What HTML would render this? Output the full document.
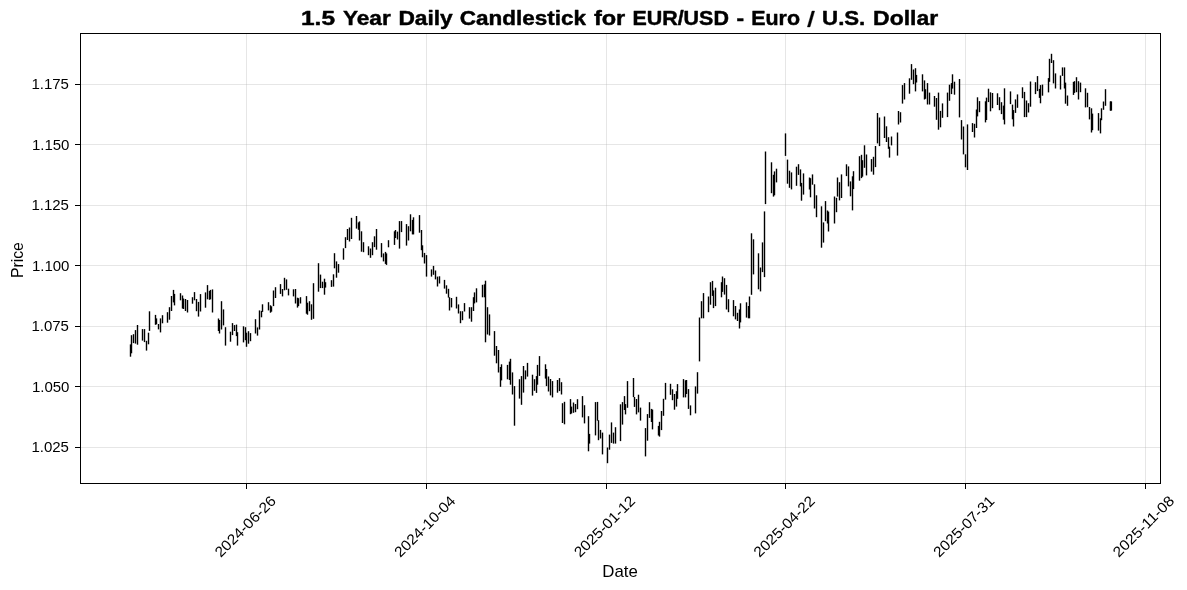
<!DOCTYPE html>
<html><head><meta charset="utf-8"><title>chart</title>
<style>html,body{margin:0;padding:0;background:#fff;overflow:hidden}body{width:1187px;height:590px;position:relative;font-family:"Liberation Sans",sans-serif}</style></head>
<body>
<svg width="1187" height="590" viewBox="0 0 1187 590" style="display:block;position:absolute;left:0;top:0;will-change:transform">
<rect x="0" y="0" width="1187" height="590" fill="#fff"/>
<g fill="#b0b0b0" fill-opacity="0.32" shape-rendering="crispEdges">
<rect x="81" y="84" width="1079" height="1"/>
<rect x="81" y="144" width="1079" height="1"/>
<rect x="81" y="205" width="1079" height="1"/>
<rect x="81" y="265" width="1079" height="1"/>
<rect x="81" y="326" width="1079" height="1"/>
<rect x="81" y="386" width="1079" height="1"/>
<rect x="81" y="447" width="1079" height="1"/>
<rect x="246" y="34" width="1" height="449"/>
<rect x="426" y="34" width="1" height="449"/>
<rect x="606" y="34" width="1" height="449"/>
<rect x="785" y="34" width="1" height="449"/>
<rect x="965" y="34" width="1" height="449"/>
<rect x="1145" y="34" width="1" height="449"/>
</g>
<g fill="#000">
<rect x="129.8" y="344.4" width="1.4" height="12.3"/>
<rect x="130.8" y="335.2" width="1.4" height="18.1"/>
<rect x="132.8" y="334.2" width="1.4" height="8.9"/>
<rect x="134.8" y="330.1" width="1.4" height="13.5"/>
<rect x="136.8" y="325.0" width="1.4" height="19.7"/>
<rect x="141.8" y="329.1" width="1.4" height="11.5"/>
<rect x="143.8" y="329.1" width="1.4" height="13.0"/>
<rect x="145.8" y="340.8" width="1.4" height="9.8"/>
<rect x="147.8" y="332.7" width="1.4" height="11.6"/>
<rect x="148.8" y="311.3" width="1.4" height="19.6"/>
<rect x="154.8" y="314.9" width="1.4" height="9.9"/>
<rect x="155.8" y="318.4" width="1.4" height="5.9"/>
<rect x="157.8" y="324.0" width="1.4" height="5.4"/>
<rect x="159.8" y="318.4" width="1.4" height="14.0"/>
<rect x="161.8" y="315.2" width="1.4" height="8.1"/>
<rect x="166.8" y="312.2" width="1.4" height="10.5"/>
<rect x="168.8" y="307.2" width="1.4" height="12.5"/>
<rect x="170.8" y="296.0" width="1.4" height="15.0"/>
<rect x="172.8" y="289.9" width="1.4" height="12.5"/>
<rect x="173.8" y="293.9" width="1.4" height="11.5"/>
<rect x="179.8" y="293.2" width="1.4" height="7.1"/>
<rect x="181.8" y="295.5" width="1.4" height="13.0"/>
<rect x="182.8" y="298.5" width="1.4" height="10.5"/>
<rect x="184.8" y="299.0" width="1.4" height="12.0"/>
<rect x="186.8" y="300.0" width="1.4" height="12.5"/>
<rect x="191.8" y="297.2" width="1.4" height="6.5"/>
<rect x="193.8" y="292.1" width="1.4" height="8.2"/>
<rect x="195.8" y="299.0" width="1.4" height="12.2"/>
<rect x="197.8" y="301.9" width="1.4" height="14.7"/>
<rect x="199.8" y="294.1" width="1.4" height="17.4"/>
<rect x="204.8" y="292.4" width="1.4" height="15.3"/>
<rect x="206.8" y="285.1" width="1.4" height="14.2"/>
<rect x="208.8" y="290.9" width="1.4" height="8.9"/>
<rect x="209.8" y="289.9" width="1.4" height="9.4"/>
<rect x="211.8" y="289.4" width="1.4" height="23.1"/>
<rect x="217.8" y="318.5" width="1.4" height="12.5"/>
<rect x="218.8" y="320.0" width="1.4" height="13.5"/>
<rect x="220.8" y="301.2" width="1.4" height="28.3"/>
<rect x="222.8" y="309.4" width="1.4" height="16.0"/>
<rect x="224.8" y="327.2" width="1.4" height="18.4"/>
<rect x="229.8" y="331.7" width="1.4" height="10.0"/>
<rect x="231.8" y="323.1" width="1.4" height="12.0"/>
<rect x="233.8" y="325.1" width="1.4" height="5.9"/>
<rect x="235.8" y="324.6" width="1.4" height="11.5"/>
<rect x="236.8" y="332.2" width="1.4" height="13.4"/>
<rect x="242.8" y="326.3" width="1.4" height="16.1"/>
<rect x="244.8" y="327.2" width="1.4" height="13.0"/>
<rect x="245.8" y="332.7" width="1.4" height="14.1"/>
<rect x="247.8" y="331.2" width="1.4" height="12.5"/>
<rect x="249.8" y="333.1" width="1.4" height="8.1"/>
<rect x="254.8" y="319.2" width="1.4" height="14.3"/>
<rect x="256.8" y="327.4" width="1.4" height="8.2"/>
<rect x="258.8" y="310.4" width="1.4" height="19.1"/>
<rect x="260.8" y="310.9" width="1.4" height="6.4"/>
<rect x="261.8" y="304.3" width="1.4" height="7.6"/>
<rect x="267.8" y="302.2" width="1.4" height="8.2"/>
<rect x="269.8" y="305.3" width="1.4" height="7.4"/>
<rect x="270.8" y="306.3" width="1.4" height="5.4"/>
<rect x="272.8" y="290.5" width="1.4" height="15.6"/>
<rect x="274.8" y="287.2" width="1.4" height="10.8"/>
<rect x="279.8" y="284.1" width="1.4" height="9.8"/>
<rect x="281.8" y="289.0" width="1.4" height="7.4"/>
<rect x="283.8" y="277.8" width="1.4" height="12.5"/>
<rect x="285.8" y="279.4" width="1.4" height="10.4"/>
<rect x="287.8" y="288.7" width="1.4" height="6.7"/>
<rect x="292.8" y="289.3" width="1.4" height="7.1"/>
<rect x="294.8" y="289.0" width="1.4" height="14.5"/>
<rect x="296.8" y="297.7" width="1.4" height="9.9"/>
<rect x="297.8" y="298.2" width="1.4" height="7.9"/>
<rect x="299.8" y="297.2" width="1.4" height="6.3"/>
<rect x="305.8" y="296.1" width="1.4" height="17.6"/>
<rect x="306.8" y="302.7" width="1.4" height="12.0"/>
<rect x="308.8" y="301.2" width="1.4" height="10.0"/>
<rect x="310.8" y="304.3" width="1.4" height="15.5"/>
<rect x="312.8" y="283.2" width="1.4" height="35.6"/>
<rect x="317.8" y="263.2" width="1.4" height="28.5"/>
<rect x="319.8" y="274.6" width="1.4" height="13.5"/>
<rect x="321.8" y="281.7" width="1.4" height="6.4"/>
<rect x="323.8" y="278.7" width="1.4" height="16.0"/>
<rect x="324.8" y="282.2" width="1.4" height="5.4"/>
<rect x="330.8" y="280.2" width="1.4" height="6.7"/>
<rect x="332.8" y="274.3" width="1.4" height="12.3"/>
<rect x="333.8" y="253.2" width="1.4" height="15.1"/>
<rect x="335.8" y="261.4" width="1.4" height="16.3"/>
<rect x="337.8" y="264.1" width="1.4" height="8.6"/>
<rect x="342.8" y="248.3" width="1.4" height="11.4"/>
<rect x="344.8" y="237.2" width="1.4" height="10.9"/>
<rect x="346.8" y="229.0" width="1.4" height="11.0"/>
<rect x="348.8" y="227.5" width="1.4" height="14.0"/>
<rect x="350.8" y="217.8" width="1.4" height="21.2"/>
<rect x="355.8" y="216.0" width="1.4" height="12.6"/>
<rect x="357.8" y="222.4" width="1.4" height="7.4"/>
<rect x="358.8" y="221.4" width="1.4" height="19.1"/>
<rect x="360.8" y="231.3" width="1.4" height="20.4"/>
<rect x="362.8" y="242.2" width="1.4" height="10.0"/>
<rect x="367.8" y="246.3" width="1.4" height="8.9"/>
<rect x="369.8" y="248.5" width="1.4" height="9.3"/>
<rect x="371.8" y="242.2" width="1.4" height="13.0"/>
<rect x="373.8" y="236.3" width="1.4" height="10.8"/>
<rect x="375.8" y="229.0" width="1.4" height="20.7"/>
<rect x="380.8" y="243.1" width="1.4" height="14.2"/>
<rect x="382.8" y="253.4" width="1.4" height="8.0"/>
<rect x="384.8" y="251.9" width="1.4" height="12.0"/>
<rect x="385.8" y="253.4" width="1.4" height="11.5"/>
<rect x="387.8" y="240.2" width="1.4" height="7.1"/>
<rect x="393.8" y="231.3" width="1.4" height="13.6"/>
<rect x="394.8" y="230.0" width="1.4" height="8.0"/>
<rect x="396.8" y="231.6" width="1.4" height="7.9"/>
<rect x="398.8" y="221.1" width="1.4" height="27.5"/>
<rect x="400.8" y="221.1" width="1.4" height="11.0"/>
<rect x="405.8" y="224.1" width="1.4" height="21.5"/>
<rect x="407.8" y="226.2" width="1.4" height="14.3"/>
<rect x="409.8" y="214.3" width="1.4" height="17.0"/>
<rect x="411.8" y="219.9" width="1.4" height="14.5"/>
<rect x="412.8" y="217.3" width="1.4" height="17.1"/>
<rect x="418.8" y="215.1" width="1.4" height="17.6"/>
<rect x="420.8" y="230.0" width="1.4" height="20.2"/>
<rect x="421.8" y="245.3" width="1.4" height="12.0"/>
<rect x="423.8" y="252.9" width="1.4" height="10.6"/>
<rect x="425.8" y="255.1" width="1.4" height="21.5"/>
<rect x="430.8" y="269.4" width="1.4" height="7.2"/>
<rect x="432.8" y="265.9" width="1.4" height="8.9"/>
<rect x="434.8" y="270.5" width="1.4" height="8.9"/>
<rect x="436.8" y="276.6" width="1.4" height="9.9"/>
<rect x="438.8" y="276.3" width="1.4" height="7.2"/>
<rect x="443.8" y="279.9" width="1.4" height="8.7"/>
<rect x="445.8" y="285.3" width="1.4" height="8.4"/>
<rect x="447.8" y="288.8" width="1.4" height="8.8"/>
<rect x="448.8" y="297.2" width="1.4" height="13.3"/>
<rect x="450.8" y="298.0" width="1.4" height="9.4"/>
<rect x="455.8" y="296.8" width="1.4" height="11.7"/>
<rect x="457.8" y="304.4" width="1.4" height="9.1"/>
<rect x="459.8" y="311.2" width="1.4" height="12.0"/>
<rect x="461.8" y="311.2" width="1.4" height="9.0"/>
<rect x="463.8" y="303.1" width="1.4" height="8.4"/>
<rect x="468.8" y="307.2" width="1.4" height="11.4"/>
<rect x="470.8" y="307.2" width="1.4" height="14.5"/>
<rect x="472.8" y="297.2" width="1.4" height="13.8"/>
<rect x="473.8" y="292.4" width="1.4" height="11.0"/>
<rect x="475.8" y="288.3" width="1.4" height="14.1"/>
<rect x="481.8" y="284.8" width="1.4" height="12.5"/>
<rect x="483.8" y="284.3" width="1.4" height="13.0"/>
<rect x="484.8" y="280.7" width="1.4" height="61.6"/>
<rect x="486.8" y="307.2" width="1.4" height="27.3"/>
<rect x="488.8" y="314.4" width="1.4" height="21.1"/>
<rect x="493.8" y="331.1" width="1.4" height="24.6"/>
<rect x="495.8" y="346.0" width="1.4" height="17.3"/>
<rect x="497.8" y="350.0" width="1.4" height="22.5"/>
<rect x="499.8" y="367.0" width="1.4" height="19.8"/>
<rect x="500.8" y="364.3" width="1.4" height="16.1"/>
<rect x="506.8" y="364.9" width="1.4" height="14.4"/>
<rect x="508.8" y="361.6" width="1.4" height="18.4"/>
<rect x="509.8" y="358.8" width="1.4" height="25.9"/>
<rect x="511.8" y="372.4" width="1.4" height="22.1"/>
<rect x="513.8" y="386.1" width="1.4" height="39.6"/>
<rect x="518.8" y="379.2" width="1.4" height="19.4"/>
<rect x="520.8" y="376.1" width="1.4" height="28.7"/>
<rect x="522.8" y="366.0" width="1.4" height="26.6"/>
<rect x="524.8" y="370.4" width="1.4" height="8.9"/>
<rect x="526.8" y="362.9" width="1.4" height="13.7"/>
<rect x="531.8" y="374.7" width="1.4" height="20.9"/>
<rect x="533.8" y="379.2" width="1.4" height="11.6"/>
<rect x="535.8" y="376.1" width="1.4" height="16.8"/>
<rect x="536.8" y="364.9" width="1.4" height="19.8"/>
<rect x="538.8" y="356.1" width="1.4" height="19.8"/>
<rect x="544.8" y="364.3" width="1.4" height="14.3"/>
<rect x="545.8" y="369.0" width="1.4" height="17.1"/>
<rect x="547.8" y="376.5" width="1.4" height="15.0"/>
<rect x="549.8" y="379.0" width="1.4" height="16.4"/>
<rect x="551.8" y="381.1" width="1.4" height="16.3"/>
<rect x="556.8" y="380.0" width="1.4" height="12.7"/>
<rect x="558.8" y="378.1" width="1.4" height="13.0"/>
<rect x="560.8" y="382.2" width="1.4" height="12.3"/>
<rect x="561.8" y="403.2" width="1.4" height="19.8"/>
<rect x="563.8" y="401.8" width="1.4" height="22.5"/>
<rect x="569.8" y="399.1" width="1.4" height="15.1"/>
<rect x="570.8" y="406.6" width="1.4" height="6.9"/>
<rect x="572.8" y="402.5" width="1.4" height="10.3"/>
<rect x="574.8" y="404.0" width="1.4" height="8.2"/>
<rect x="576.8" y="399.2" width="1.4" height="10.0"/>
<rect x="581.8" y="396.1" width="1.4" height="21.3"/>
<rect x="583.8" y="405.2" width="1.4" height="18.2"/>
<rect x="587.8" y="416.2" width="1.4" height="35.1"/>
<rect x="588.8" y="433.9" width="1.4" height="9.7"/>
<rect x="594.8" y="402.1" width="1.4" height="33.3"/>
<rect x="596.8" y="401.9" width="1.4" height="18.8"/>
<rect x="597.8" y="420.2" width="1.4" height="20.0"/>
<rect x="599.8" y="429.9" width="1.4" height="8.6"/>
<rect x="601.8" y="432.6" width="1.4" height="21.8"/>
<rect x="606.8" y="447.5" width="1.4" height="15.7"/>
<rect x="608.8" y="434.6" width="1.4" height="15.1"/>
<rect x="610.8" y="422.4" width="1.4" height="20.5"/>
<rect x="612.8" y="432.6" width="1.4" height="11.0"/>
<rect x="614.8" y="427.2" width="1.4" height="16.4"/>
<rect x="619.8" y="404.3" width="1.4" height="36.8"/>
<rect x="621.8" y="402.1" width="1.4" height="22.5"/>
<rect x="623.8" y="396.1" width="1.4" height="13.9"/>
<rect x="624.8" y="404.1" width="1.4" height="10.3"/>
<rect x="626.8" y="381.1" width="1.4" height="26.7"/>
<rect x="632.8" y="378.0" width="1.4" height="19.1"/>
<rect x="633.8" y="397.0" width="1.4" height="9.9"/>
<rect x="635.8" y="399.0" width="1.4" height="15.4"/>
<rect x="637.8" y="394.7" width="1.4" height="17.7"/>
<rect x="639.8" y="407.6" width="1.4" height="13.0"/>
<rect x="644.8" y="428.1" width="1.4" height="28.3"/>
<rect x="646.8" y="414.1" width="1.4" height="26.6"/>
<rect x="648.8" y="402.2" width="1.4" height="15.7"/>
<rect x="650.8" y="408.9" width="1.4" height="13.1"/>
<rect x="651.8" y="409.6" width="1.4" height="19.8"/>
<rect x="657.8" y="425.9" width="1.4" height="9.6"/>
<rect x="658.8" y="421.8" width="1.4" height="14.8"/>
<rect x="660.8" y="411.0" width="1.4" height="19.1"/>
<rect x="662.8" y="398.8" width="1.4" height="17.0"/>
<rect x="664.8" y="382.9" width="1.4" height="16.7"/>
<rect x="669.8" y="383.8" width="1.4" height="11.0"/>
<rect x="671.8" y="389.3" width="1.4" height="10.9"/>
<rect x="673.8" y="394.0" width="1.4" height="15.7"/>
<rect x="675.8" y="391.2" width="1.4" height="15.4"/>
<rect x="676.8" y="384.1" width="1.4" height="14.7"/>
<rect x="682.8" y="379.1" width="1.4" height="18.3"/>
<rect x="684.8" y="380.3" width="1.4" height="17.1"/>
<rect x="685.8" y="380.0" width="1.4" height="14.0"/>
<rect x="687.8" y="389.1" width="1.4" height="19.8"/>
<rect x="689.8" y="405.4" width="1.4" height="9.9"/>
<rect x="694.8" y="386.4" width="1.4" height="27.0"/>
<rect x="696.8" y="372.2" width="1.4" height="21.4"/>
<rect x="698.8" y="317.5" width="1.4" height="43.9"/>
<rect x="700.8" y="301.2" width="1.4" height="17.1"/>
<rect x="702.8" y="293.1" width="1.4" height="25.2"/>
<rect x="707.8" y="296.5" width="1.4" height="15.7"/>
<rect x="709.8" y="282.2" width="1.4" height="22.5"/>
<rect x="711.8" y="280.9" width="1.4" height="15.0"/>
<rect x="712.8" y="290.4" width="1.4" height="17.7"/>
<rect x="714.8" y="287.7" width="1.4" height="18.4"/>
<rect x="720.8" y="282.2" width="1.4" height="15.1"/>
<rect x="721.8" y="276.5" width="1.4" height="15.4"/>
<rect x="723.8" y="278.2" width="1.4" height="16.4"/>
<rect x="725.8" y="284.9" width="1.4" height="24.6"/>
<rect x="727.8" y="299.2" width="1.4" height="13.0"/>
<rect x="732.8" y="300.1" width="1.4" height="16.2"/>
<rect x="734.8" y="306.0" width="1.4" height="13.4"/>
<rect x="736.8" y="312.8" width="1.4" height="8.2"/>
<rect x="738.8" y="309.4" width="1.4" height="19.1"/>
<rect x="739.8" y="303.3" width="1.4" height="19.1"/>
<rect x="745.8" y="302.3" width="1.4" height="15.3"/>
<rect x="747.8" y="306.0" width="1.4" height="12.3"/>
<rect x="748.8" y="296.5" width="1.4" height="21.8"/>
<rect x="750.8" y="233.3" width="1.4" height="61.5"/>
<rect x="752.8" y="239.3" width="1.4" height="35.1"/>
<rect x="757.8" y="253.3" width="1.4" height="36.0"/>
<rect x="759.8" y="267.5" width="1.4" height="23.9"/>
<rect x="761.8" y="242.4" width="1.4" height="29.7"/>
<rect x="763.8" y="211.4" width="1.4" height="65.7"/>
<rect x="764.8" y="151.5" width="1.4" height="52.6"/>
<rect x="770.8" y="162.3" width="1.4" height="30.9"/>
<rect x="772.8" y="174.8" width="1.4" height="21.8"/>
<rect x="773.8" y="171.4" width="1.4" height="23.9"/>
<rect x="775.8" y="168.7" width="1.4" height="13.7"/>
<rect x="784.8" y="133.4" width="1.4" height="22.5"/>
<rect x="786.8" y="159.6" width="1.4" height="24.1"/>
<rect x="788.8" y="170.7" width="1.4" height="17.1"/>
<rect x="790.8" y="172.4" width="1.4" height="17.0"/>
<rect x="795.8" y="166.7" width="1.4" height="19.1"/>
<rect x="797.8" y="164.2" width="1.4" height="10.7"/>
<rect x="799.8" y="169.4" width="1.4" height="17.0"/>
<rect x="800.8" y="182.9" width="1.4" height="17.8"/>
<rect x="802.8" y="173.4" width="1.4" height="21.2"/>
<rect x="808.8" y="177.5" width="1.4" height="12.0"/>
<rect x="809.8" y="178.2" width="1.4" height="19.1"/>
<rect x="811.8" y="174.4" width="1.4" height="10.3"/>
<rect x="813.8" y="184.3" width="1.4" height="24.2"/>
<rect x="815.8" y="195.3" width="1.4" height="21.9"/>
<rect x="820.8" y="206.3" width="1.4" height="41.4"/>
<rect x="822.8" y="222.4" width="1.4" height="20.2"/>
<rect x="824.8" y="201.1" width="1.4" height="20.1"/>
<rect x="826.8" y="210.5" width="1.4" height="13.0"/>
<rect x="827.8" y="211.6" width="1.4" height="19.9"/>
<rect x="833.8" y="196.5" width="1.4" height="27.0"/>
<rect x="835.8" y="197.8" width="1.4" height="14.4"/>
<rect x="836.8" y="177.5" width="1.4" height="19.1"/>
<rect x="838.8" y="182.2" width="1.4" height="18.2"/>
<rect x="840.8" y="174.4" width="1.4" height="23.6"/>
<rect x="845.8" y="164.3" width="1.4" height="11.8"/>
<rect x="847.8" y="166.4" width="1.4" height="20.0"/>
<rect x="849.8" y="181.4" width="1.4" height="14.9"/>
<rect x="851.8" y="176.3" width="1.4" height="34.1"/>
<rect x="852.8" y="171.2" width="1.4" height="17.9"/>
<rect x="858.8" y="156.2" width="1.4" height="24.5"/>
<rect x="860.8" y="154.8" width="1.4" height="23.3"/>
<rect x="861.8" y="160.2" width="1.4" height="16.5"/>
<rect x="863.8" y="145.3" width="1.4" height="22.5"/>
<rect x="865.8" y="154.5" width="1.4" height="20.9"/>
<rect x="870.8" y="159.1" width="1.4" height="12.5"/>
<rect x="872.8" y="156.8" width="1.4" height="17.9"/>
<rect x="874.8" y="146.0" width="1.4" height="21.1"/>
<rect x="876.8" y="113.0" width="1.4" height="30.4"/>
<rect x="878.8" y="117.5" width="1.4" height="28.6"/>
<rect x="883.8" y="116.5" width="1.4" height="21.5"/>
<rect x="885.8" y="126.3" width="1.4" height="15.7"/>
<rect x="887.8" y="137.2" width="1.4" height="11.6"/>
<rect x="888.8" y="146.7" width="1.4" height="10.9"/>
<rect x="890.8" y="136.5" width="1.4" height="8.9"/>
<rect x="896.8" y="132.5" width="1.4" height="23.1"/>
<rect x="897.8" y="111.0" width="1.4" height="13.5"/>
<rect x="899.8" y="112.2" width="1.4" height="10.3"/>
<rect x="901.8" y="85.1" width="1.4" height="18.5"/>
<rect x="903.8" y="83.1" width="1.4" height="16.4"/>
<rect x="908.8" y="78.3" width="1.4" height="15.4"/>
<rect x="910.8" y="64.1" width="1.4" height="15.7"/>
<rect x="912.8" y="69.5" width="1.4" height="14.7"/>
<rect x="914.8" y="68.2" width="1.4" height="23.2"/>
<rect x="915.8" y="74.9" width="1.4" height="7.6"/>
<rect x="921.8" y="74.3" width="1.4" height="17.1"/>
<rect x="923.8" y="80.4" width="1.4" height="19.1"/>
<rect x="924.8" y="89.2" width="1.4" height="9.6"/>
<rect x="926.8" y="83.1" width="1.4" height="21.4"/>
<rect x="928.8" y="92.6" width="1.4" height="11.9"/>
<rect x="933.8" y="96.0" width="1.4" height="10.7"/>
<rect x="935.8" y="98.0" width="1.4" height="21.8"/>
<rect x="937.8" y="92.6" width="1.4" height="37.1"/>
<rect x="939.8" y="110.9" width="1.4" height="16.4"/>
<rect x="941.8" y="103.4" width="1.4" height="14.4"/>
<rect x="946.8" y="92.6" width="1.4" height="24.5"/>
<rect x="948.8" y="84.7" width="1.4" height="16.1"/>
<rect x="950.8" y="83.1" width="1.4" height="11.0"/>
<rect x="951.8" y="74.3" width="1.4" height="14.3"/>
<rect x="953.8" y="81.7" width="1.4" height="13.0"/>
<rect x="958.8" y="79.0" width="1.4" height="38.4"/>
<rect x="960.8" y="120.1" width="1.4" height="19.4"/>
<rect x="962.8" y="126.5" width="1.4" height="27.9"/>
<rect x="964.8" y="154.3" width="1.4" height="13.0"/>
<rect x="966.8" y="124.4" width="1.4" height="45.6"/>
<rect x="971.8" y="123.1" width="1.4" height="8.9"/>
<rect x="973.8" y="123.8" width="1.4" height="13.7"/>
<rect x="975.8" y="109.5" width="1.4" height="18.5"/>
<rect x="976.8" y="97.3" width="1.4" height="19.1"/>
<rect x="978.8" y="101.1" width="1.4" height="11.1"/>
<rect x="984.8" y="101.3" width="1.4" height="21.1"/>
<rect x="985.8" y="97.6" width="1.4" height="22.4"/>
<rect x="987.8" y="88.7" width="1.4" height="13.4"/>
<rect x="989.8" y="92.3" width="1.4" height="19.0"/>
<rect x="991.8" y="93.0" width="1.4" height="15.2"/>
<rect x="996.8" y="93.3" width="1.4" height="11.7"/>
<rect x="998.8" y="97.2" width="1.4" height="13.0"/>
<rect x="1000.8" y="102.2" width="1.4" height="11.9"/>
<rect x="1002.8" y="105.6" width="1.4" height="14.1"/>
<rect x="1003.8" y="88.3" width="1.4" height="36.1"/>
<rect x="1009.8" y="91.4" width="1.4" height="12.7"/>
<rect x="1011.8" y="104.6" width="1.4" height="14.7"/>
<rect x="1012.8" y="110.1" width="1.4" height="16.4"/>
<rect x="1014.8" y="99.4" width="1.4" height="13.5"/>
<rect x="1016.8" y="94.4" width="1.4" height="13.4"/>
<rect x="1021.8" y="87.3" width="1.4" height="10.9"/>
<rect x="1023.8" y="91.9" width="1.4" height="25.2"/>
<rect x="1025.8" y="100.5" width="1.4" height="16.6"/>
<rect x="1027.8" y="103.2" width="1.4" height="9.3"/>
<rect x="1029.8" y="81.5" width="1.4" height="25.2"/>
<rect x="1034.8" y="82.2" width="1.4" height="11.9"/>
<rect x="1036.8" y="76.1" width="1.4" height="15.0"/>
<rect x="1038.8" y="88.9" width="1.4" height="9.0"/>
<rect x="1039.8" y="85.1" width="1.4" height="18.2"/>
<rect x="1041.8" y="84.6" width="1.4" height="11.1"/>
<rect x="1047.8" y="78.1" width="1.4" height="14.3"/>
<rect x="1048.8" y="58.8" width="1.4" height="23.0"/>
<rect x="1050.8" y="53.8" width="1.4" height="9.2"/>
<rect x="1052.8" y="60.2" width="1.4" height="23.2"/>
<rect x="1054.8" y="73.4" width="1.4" height="15.1"/>
<rect x="1059.8" y="75.5" width="1.4" height="14.0"/>
<rect x="1061.8" y="67.4" width="1.4" height="8.5"/>
<rect x="1063.8" y="67.4" width="1.4" height="21.1"/>
<rect x="1064.8" y="82.6" width="1.4" height="21.1"/>
<rect x="1066.8" y="95.5" width="1.4" height="10.3"/>
<rect x="1072.8" y="81.9" width="1.4" height="13.0"/>
<rect x="1073.8" y="81.2" width="1.4" height="11.7"/>
<rect x="1075.8" y="77.2" width="1.4" height="15.0"/>
<rect x="1077.8" y="81.2" width="1.4" height="18.3"/>
<rect x="1079.8" y="82.6" width="1.4" height="9.6"/>
<rect x="1084.8" y="88.3" width="1.4" height="19.1"/>
<rect x="1086.8" y="92.8" width="1.4" height="14.4"/>
<rect x="1088.8" y="107.0" width="1.4" height="12.4"/>
<rect x="1090.8" y="108.3" width="1.4" height="24.2"/>
<rect x="1091.8" y="113.6" width="1.4" height="16.6"/>
<rect x="1097.8" y="113.1" width="1.4" height="17.5"/>
<rect x="1099.8" y="118.3" width="1.4" height="15.1"/>
<rect x="1100.8" y="108.3" width="1.4" height="11.9"/>
<rect x="1102.8" y="101.5" width="1.4" height="8.3"/>
<rect x="1104.8" y="89.2" width="1.4" height="16.6"/>
<rect x="1109.8" y="101.5" width="1.4" height="9.1"/>
</g>
<g fill="#000">
<rect x="1109.9" y="101.4" width="2.2" height="9.2"/>
</g>
<g fill="#000" shape-rendering="crispEdges">
<rect x="80" y="33" width="1081" height="1"/>
<rect x="80" y="483" width="1081" height="1"/>
<rect x="80" y="33" width="1" height="451"/>
<rect x="1160" y="33" width="1" height="451"/>
<rect x="75" y="84" width="5" height="1"/>
<rect x="75" y="144" width="5" height="1"/>
<rect x="75" y="205" width="5" height="1"/>
<rect x="75" y="265" width="5" height="1"/>
<rect x="75" y="326" width="5" height="1"/>
<rect x="75" y="386" width="5" height="1"/>
<rect x="75" y="447" width="5" height="1"/>
<rect x="246" y="484" width="1" height="5"/>
<rect x="426" y="484" width="1" height="5"/>
<rect x="606" y="484" width="1" height="5"/>
<rect x="785" y="484" width="1" height="5"/>
<rect x="965" y="484" width="1" height="5"/>
<rect x="1145" y="484" width="1" height="5"/>
</g>
<g font-family="Liberation Sans, sans-serif" font-size="14.6" fill="#000" text-anchor="end">
<text x="69.0" y="88.50" textLength="37.6" lengthAdjust="spacingAndGlyphs">1.175</text>
<text x="69.5" y="149.50" textLength="37.6" lengthAdjust="spacingAndGlyphs">1.150</text>
<text x="69.0" y="209.50" textLength="37.6" lengthAdjust="spacingAndGlyphs">1.125</text>
<text x="69.5" y="270.50" textLength="37.6" lengthAdjust="spacingAndGlyphs">1.100</text>
<text x="69.0" y="330.50" textLength="37.6" lengthAdjust="spacingAndGlyphs">1.075</text>
<text x="69.5" y="391.50" textLength="37.6" lengthAdjust="spacingAndGlyphs">1.050</text>
<text x="69.0" y="451.50" textLength="37.6" lengthAdjust="spacingAndGlyphs">1.025</text>
</g>
<g font-family="Liberation Sans, sans-serif" font-size="14.6" fill="#000" text-anchor="middle">
<text transform="translate(245.2,526.3) rotate(-45)" x="0" y="5.05" textLength="79.5" lengthAdjust="spacingAndGlyphs">2024-06-26</text>
<text transform="translate(424.8,526.3) rotate(-45)" x="0" y="5.05" textLength="79.5" lengthAdjust="spacingAndGlyphs">2024-10-04</text>
<text transform="translate(604.5,526.3) rotate(-45)" x="0" y="5.05" textLength="79.5" lengthAdjust="spacingAndGlyphs">2025-01-12</text>
<text transform="translate(784.1,526.3) rotate(-45)" x="0" y="5.05" textLength="79.5" lengthAdjust="spacingAndGlyphs">2025-04-22</text>
<text transform="translate(963.8,526.3) rotate(-45)" x="0" y="5.05" textLength="79.5" lengthAdjust="spacingAndGlyphs">2025-07-31</text>
<text transform="translate(1143.4,526.3) rotate(-45)" x="0" y="5.05" textLength="79.5" lengthAdjust="spacingAndGlyphs">2025-11-08</text>
</g>
<text font-family="Liberation Sans, sans-serif" font-size="16.2" x="620" y="576.8" text-anchor="middle" textLength="35.5" lengthAdjust="spacingAndGlyphs">Date</text>
<text font-family="Liberation Sans, sans-serif" font-size="16.2" transform="translate(22.9,260.1) rotate(-90)" x="0" y="0" text-anchor="middle" textLength="36" lengthAdjust="spacingAndGlyphs">Price</text>
<g font-family="Liberation Sans, sans-serif" font-weight="bold" font-size="20.4" fill="#000" stroke="#000" stroke-width="0.45" stroke-linejoin="round">
<text x="301.00" y="24.7" textLength="34.00" lengthAdjust="spacingAndGlyphs">1.5</text>
<text x="342.90" y="24.7" textLength="47.90" lengthAdjust="spacingAndGlyphs">Year</text>
<text x="398.40" y="24.7" textLength="54.40" lengthAdjust="spacingAndGlyphs">Daily</text>
<text x="459.80" y="24.7" textLength="126.20" lengthAdjust="spacingAndGlyphs">Candlestick</text>
<text x="593.90" y="24.7" textLength="31.40" lengthAdjust="spacingAndGlyphs">for</text>
<text x="632.40" y="24.7" textLength="96.50" lengthAdjust="spacingAndGlyphs">EUR/USD</text>
<text x="736.40" y="24.7" textLength="7.60" lengthAdjust="spacingAndGlyphs">-</text>
<text x="751.20" y="24.7" textLength="48.80" lengthAdjust="spacingAndGlyphs">Euro</text>
<polygon points="812.0,11.1 814.6,11.1 810.0,26.9 807.4,26.9"/>
<text x="822.10" y="24.7" textLength="43.20" lengthAdjust="spacingAndGlyphs">U.S.</text>
<text x="873.10" y="24.7" textLength="65.00" lengthAdjust="spacingAndGlyphs">Dollar</text>
</g>
</svg>
</body></html>
